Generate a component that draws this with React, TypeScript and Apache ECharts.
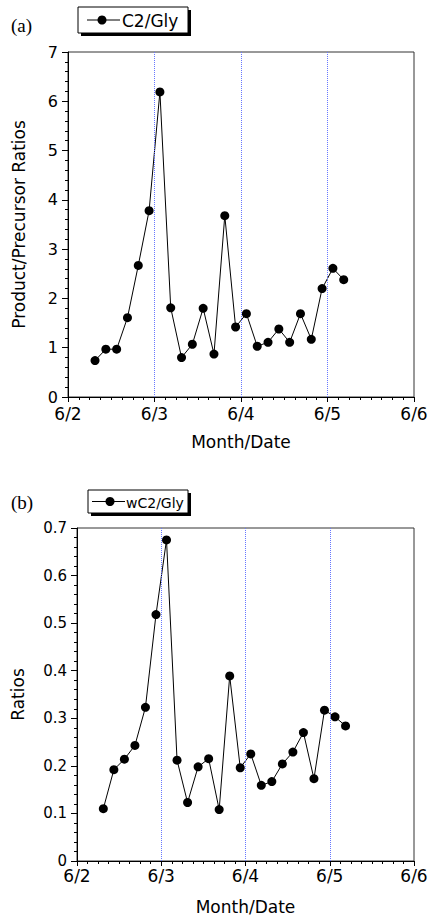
import React, { useEffect, useRef } from "react";
import * as echarts from "echarts";

// Sampling times, in hours after 6/2 00:00
const sampleHours = [7.5, 10.5, 13.5, 16.5, 19.5, 22.5, 25.5, 28.5, 31.5, 34.5, 37.5, 40.5, 43.5, 46.5, 49.5, 52.5, 55.5, 58.5, 61.5, 64.5, 67.5, 70.5, 73.5, 76.5];
const c2Gly = [0.74, 0.97, 0.97, 1.61, 2.67, 3.78, 6.19, 1.81, 0.8, 1.07, 1.8, 0.87, 3.68, 1.42, 1.69, 1.03, 1.11, 1.38, 1.11, 1.69, 1.17, 2.2, 2.61, 2.38];
const wC2Gly = [0.11, 0.192, 0.214, 0.243, 0.323, 0.518, 0.675, 0.212, 0.123, 0.198, 0.215, 0.108, 0.389, 0.196, 0.225, 0.159, 0.167, 0.204, 0.229, 0.27, 0.173, 0.317, 0.303, 0.284];
const dateLabels = ["6/2", "6/3", "6/4", "6/5", "6/6"];
const dayMarks = [24, 48, 72];
const seriesNames = ["C2/Gly", "wC2/Gly"];
const panelLabels = ["(a)", "(b)"];

const FONT = "DejaVu Sans";

export default function App() {
  const ref = useRef<HTMLDivElement>(null);
  useEffect(() => {
    const chart = echarts.init(ref.current!, null, { renderer: "svg" });
    const xAxisBase = (gridIndex: number, labelMargin: number, nameGap: number) => ({
      type: "value",
      gridIndex,
      min: 0,
      max: 96,
      interval: 24,
      axisLine: { show: true, lineStyle: { color: "#000", width: 1 } },
      axisTick: { show: true, length: 5, lineStyle: { color: "#000" } },
      minorTick: { show: true, splitNumber: 8, length: 3, lineStyle: { color: "#000" } },
      splitLine: { show: false },
      axisLabel: {
        formatter: (v: number) => dateLabels[Math.round(v / 24)],
        fontSize: 17,
        color: "#000",
        fontFamily: FONT,
        margin: labelMargin,
      },
      name: "Month/Date",
      nameLocation: "middle",
      nameGap,
      nameTextStyle: { fontSize: 17, color: "#000", fontFamily: FONT },
    });
    const markSeries = (idx: number) => ({
      type: "line",
      xAxisIndex: idx,
      yAxisIndex: idx,
      data: [],
      z: 1,
      silent: true,
      markLine: {
        silent: true,
        symbol: ["none", "none"],
        label: { show: false },
        lineStyle: { color: "#6677ff", type: "dotted", width: 1 },
        data: dayMarks.map((d) => ({ xAxis: d })),
      },
    });
    const legendGraphic = (
      x: number, y: number, w: number, h: number,
      lineX1: number, lineX2: number, dotX: number, textX: number, fontSize: number, name: string
    ) => [
      { type: "rect", shape: { x: x + 3, y: y + 3, width: w, height: h }, style: { fill: "#000" }, z: 10 },
      { type: "rect", shape: { x, y, width: w, height: h }, style: { fill: "#fff", stroke: "#000", lineWidth: 1 }, z: 11 },
      { type: "line", shape: { x1: lineX1, y1: y + h / 2, x2: lineX2, y2: y + h / 2 }, style: { stroke: "#000", lineWidth: 1 }, z: 12 },
      { type: "circle", shape: { cx: dotX, cy: y + h / 2, r: 4.5 }, style: { fill: "#000" }, z: 12 },
      {
        type: "text", x: textX, y: y + h / 2 + 1, z: 12,
        style: { text: name, fontSize, fontFamily: FONT, fill: "#000", verticalAlign: "middle", align: "left" },
      },
    ];
    chart.setOption({
      animation: false,
      backgroundColor: "#fff",
      grid: [
        { left: 68, top: 52, width: 346, height: 345, show: true, borderColor: "#333", borderWidth: 1, backgroundColor: "transparent" },
        { left: 77, top: 528, width: 337, height: 336, show: true, borderColor: "#333", borderWidth: 1, backgroundColor: "transparent" },
      ],
      xAxis: [xAxisBase(0, 8, 36), xAxisBase(1, 6, 37)],
      yAxis: [
        {
          type: "value",
          gridIndex: 0,
          min: 0,
          max: 7,
          interval: 1,
          axisLine: { show: true, lineStyle: { color: "#000" } },
          axisTick: { show: true, length: 6, lineStyle: { color: "#000" } },
          minorTick: { show: true, splitNumber: 5, length: 3, lineStyle: { color: "#000" } },
          splitLine: { show: false },
          axisLabel: { fontSize: 16, color: "#000", fontFamily: FONT, margin: 10 },
          name: "Product/Precursor Ratios",
          nameLocation: "middle",
          nameGap: 41,
          nameTextStyle: { fontSize: 17, color: "#000", fontFamily: FONT },
        },
        {
          type: "value",
          gridIndex: 1,
          min: 0,
          max: 0.7,
          interval: 0.1,
          axisLine: { show: true, lineStyle: { color: "#000" } },
          axisTick: { show: true, length: 6, lineStyle: { color: "#000" } },
          minorTick: { show: true, splitNumber: 5, length: 3, lineStyle: { color: "#000" } },
          splitLine: { show: false },
          axisLabel: {
            fontSize: 15,
            color: "#000",
            fontFamily: FONT,
            margin: 10,
            formatter: (v: number) => (v === 0 ? "0" : v.toFixed(1)),
          },
          name: "Ratios",
          nameLocation: "middle",
          nameGap: 51,
          nameTextStyle: { fontSize: 17, color: "#000", fontFamily: FONT },
        },
      ],
      series: [
        markSeries(0),
        markSeries(1),
        {
          name: seriesNames[0],
          type: "line",
          xAxisIndex: 0,
          yAxisIndex: 0,
          z: 3,
          data: sampleHours.map((h, i) => [h, c2Gly[i]]),
          symbol: "circle",
          symbolSize: 9,
          itemStyle: { color: "#000" },
          lineStyle: { color: "#000", width: 1 },
        },
        {
          name: seriesNames[1],
          type: "line",
          xAxisIndex: 1,
          yAxisIndex: 1,
          z: 3,
          data: sampleHours.map((h, i) => [h, wC2Gly[i]]),
          symbol: "circle",
          symbolSize: 9,
          itemStyle: { color: "#000" },
          lineStyle: { color: "#000", width: 1 },
        },
      ],
      graphic: [
        ...legendGraphic(78, 7, 110, 26, 87, 120, 102, 122, 17, seriesNames[0]),
        ...legendGraphic(88, 490, 100, 23, 92, 125, 110, 126, 14, seriesNames[1]),
        {
          type: "text", x: 11, y: 25,
          style: { text: panelLabels[0], fontSize: 19, fontFamily: "Liberation Serif", fill: "#000", verticalAlign: "middle" },
        },
        {
          type: "text", x: 11, y: 502,
          style: { text: panelLabels[1], fontSize: 19, fontFamily: "Liberation Serif", fill: "#000", verticalAlign: "middle" },
        },
      ],
    });
    return () => chart.dispose();
  }, []);
  return (
    <div
      ref={ref}
      style={{ position: "absolute", left: 0, top: 0, width: 431, height: 916, background: "#fff" }}
    />
  );
}
